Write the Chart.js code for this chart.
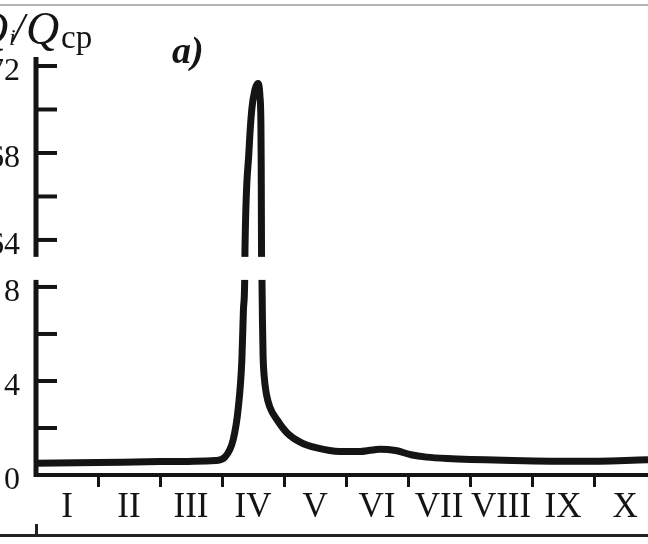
<!DOCTYPE html>
<html>
<head>
<meta charset="utf-8">
<script src="https://cdn.jsdelivr.net/npm/chart.js@4.4.1/dist/chart.umd.min.js"></script>
<style>
    html, body { margin: 0; padding: 0; background: #fff; }
    #marco { position: relative; width: 648px; height: 544px; overflow: hidden; background: #fff; }
    #grafico { position: absolute; left: 0; top: 0; }
    #lineaSup { position: absolute; left: 0; top: 4px; width: 648px; height: 2px; background: #b5b5b5; }
    #lineaInf { position: absolute; left: 0; top: 534px; width: 648px; height: 3px; background: #222; }
    #marcaInf { position: absolute; left: 35px; top: 524px; width: 3px; height: 11px; background: #222; }
</style>
</head>
<body>
<div id="marco">
    <canvas id="grafico" width="648" height="544"></canvas>
    <div id="lineaSup"></div>
    <div id="lineaInf"></div>
    <div id="marcaInf"></div>
</div>
<script>
// meses del año (eje x), cada mes ocupa una unidad
var meses = ['I', 'II', 'III', 'IV', 'V', 'VI', 'VII', 'VIII', 'IX', 'X'];
// tiempo en meses desde el comienzo de enero
var tiempo = [0, 1, 2, 2.9, 3.05, 3.18, 3.26, 3.32, 3.345, 3.365,
              3.37, 3.435, 3.48, 3.53, 3.58, 3.612, 3.627, 3.632, 3.637,
              3.645, 3.652, 3.662, 3.68, 3.715, 3.77, 3.89, 4.05, 4.26, 4.53,
              4.9, 5.23, 5.55, 5.8, 6.05, 6.3, 6.63, 7.69, 8.77, 9.87];
// caudal relativo Qi/Qср
var caudal = [0.5, 0.53, 0.57, 0.62, 0.77, 1.5, 2.8, 4.9, 7.0, 8.2,
              63.5, 68.1, 70.0, 70.9, 71.2, 70.6, 69.4, 67.5, 63.5,
              8.2, 6.6, 5.1, 4.2, 3.45, 2.9, 2.34, 1.79, 1.4, 1.15,
              1.0, 1.0, 1.1, 1.04, 0.86, 0.76, 0.7, 0.62, 0.58, 0.65];
// marcas del eje y (escala cortada entre 8 y 64)
var marcasY = [0, 2, 4, 6, 8, 64, 66, 68, 70, 72];
var etiquetasY = ['0', '', '4', '', '8', '64', '', '68', '', '72'];

// eje cortado: tramo inferior 0..8, tramo superior 64..72 algo comprimido
function escalaCortada(v) {
    if (v < 36) return v;
    return 10 + (v - 64) * 0.925;
}

var puntos = tiempo.map(function (t, i) {
    return { x: t, y: escalaCortada(caudal[i]) };
});

var negro = '#141414';
var fuente = 'Liberation Serif';

var dibujoExtra = {
    id: 'dibujoExtra',
    afterDraw: function (chart) {
        var ctx = chart.ctx;
        var area = chart.chartArea;
        var ey = chart.scales.y;
        ctx.save();
        // eje y
        ctx.strokeStyle = negro;
        ctx.lineWidth = 5;
        ctx.beginPath();
        ctx.moveTo(area.left, area.top - 9);
        ctx.lineTo(area.left, area.bottom + 2);
        ctx.stroke();
        // corte de la escala
        var y1 = ey.getPixelForValue(9.28);
        var y2 = ey.getPixelForValue(8.3);
        ctx.fillStyle = '#fff';
        ctx.fillRect(area.left - 6, y1, area.right - area.left + 6, y2 - y1);
        // marcas del eje y hacia dentro
        ctx.lineWidth = 4;
        marcasY.forEach(function (v) {
            if (v === 0) return;
            var py = ey.getPixelForValue(escalaCortada(v));
            ctx.beginPath();
            ctx.moveTo(area.left, py);
            ctx.lineTo(area.left + 21, py);
            ctx.stroke();
        });
        // titulo del eje
        ctx.fillStyle = negro;
        ctx.textBaseline = 'alphabetic';
        ctx.font = 'italic 46px ' + fuente;
        ctx.fillText('Q', -25, 44);
        ctx.font = 'italic 24px ' + fuente;
        ctx.fillText('i', 9, 45);
        ctx.font = 'italic 42px ' + fuente;
        ctx.fillText('/', 13, 42);
        ctx.font = 'italic 46px ' + fuente;
        ctx.fillText('Q', 26, 44);
        ctx.font = '33px ' + fuente;
        ctx.fillText('ср', 61, 48);
        ctx.font = 'italic bold 38px ' + fuente;
        ctx.fillText('a)', 172, 63);
        ctx.restore();
    }
};

var chart = new Chart(document.getElementById('grafico'), {
    type: 'line',
    data: {
        datasets: [{
            label: 'Qi/Qср',
            data: puntos,
            borderColor: negro,
            borderWidth: 7,
            pointRadius: 0,
            fill: false,
            cubicInterpolationMode: 'monotone'
        }]
    },
    options: {
        responsive: false,
        animation: false,
        devicePixelRatio: 1,
        layout: { padding: { top: 66, left: 0, right: 0, bottom: 0 } },
        plugins: {
            legend: { display: false },
            tooltip: { enabled: false }
        },
        scales: {
            x: {
                type: 'linear',
                min: 0,
                max: 9.87,
                afterBuildTicks: function (scale) {
                    var lista = [];
                    meses.forEach(function (m, i) {
                        lista.push({ value: i });
                        lista.push({ value: i + 0.5 });
                    });
                    scale.ticks = lista;
                },
                afterFit: function (scale) { scale.height = 69; },
                border: { display: true, color: negro, width: 4 },
                grid: {
                    display: true,
                    drawOnChartArea: false,
                    drawTicks: true,
                    tickLength: 12,
                    lineWidth: 3,
                    color: function (c) {
                        var v = c.tick ? c.tick.value : 0;
                        return (v > 0 && v % 1 === 0) ? negro : 'rgba(0,0,0,0)';
                    }
                },
                ticks: {
                    autoSkip: false,
                    maxRotation: 0,
                    padding: 0,
                    color: negro,
                    font: { family: fuente, size: 35 },
                    callback: function (value) {
                        if (value % 1 === 0) return '';
                        return meses[Math.floor(value)];
                    }
                }
            },
            y: {
                type: 'linear',
                min: 0,
                max: escalaCortada(72),
                afterBuildTicks: function (scale) {
                    scale.ticks = marcasY.map(function (v) { return { value: escalaCortada(v) }; });
                },
                afterFit: function (scale) { scale.width = 36; },
                border: { display: false },
                grid: { display: false },
                ticks: {
                    autoSkip: false,
                    padding: 8,
                    labelOffset: 6,
                    color: negro,
                    font: { family: fuente, size: 32 },
                    callback: function (value, index) {
                        return etiquetasY[index];
                    }
                }
            }
        }
    },
    plugins: [dibujoExtra]
});
</script>
</body>
</html>
